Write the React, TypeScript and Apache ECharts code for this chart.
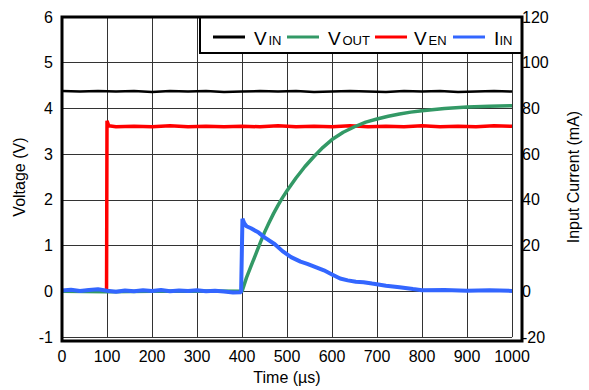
import React, { useEffect, useRef } from "react";
import * as echarts from "echarts";

// ---- Data ----
// Time axis ticks (µs)
const timeTicks = [0, 100, 200, 300, 400, 500, 600, 700, 800, 900, 1000];

// VIN (V) : [time µs, volts]
const vinData: [number, number][] = [
  [0, 4.38], [40, 4.37], [80, 4.38], [120, 4.37], [160, 4.38], [200, 4.36],
  [240, 4.38], [280, 4.37], [320, 4.38], [360, 4.36], [400, 4.37], [440, 4.38],
  [480, 4.37], [520, 4.38], [560, 4.36], [600, 4.37], [640, 4.38], [680, 4.37],
  [720, 4.36], [760, 4.38], [800, 4.37], [840, 4.38], [880, 4.36], [920, 4.37],
  [960, 4.38], [1000, 4.37],
];

// VEN (V)
const venData: [number, number][] = [
  [0, 0.01], [30, 0.0], [60, 0.02], [90, 0.0], [99, 0.01], [100, 3.73],
  [104, 3.62], [120, 3.6], [160, 3.61], [200, 3.6], [240, 3.62], [280, 3.6],
  [320, 3.61], [360, 3.6], [400, 3.61], [440, 3.6], [480, 3.62], [520, 3.6],
  [560, 3.61], [600, 3.6], [640, 3.62], [680, 3.6], [720, 3.61], [760, 3.6],
  [800, 3.62], [840, 3.6], [880, 3.61], [920, 3.6], [960, 3.62], [1000, 3.61],
];

// VOUT (V)
const voutData: [number, number][] = [
  [0, 0.0], [100, -0.01], [200, 0.0], [300, 0.01], [400, 0.0], [410, 0.3],
  [420, 0.55], [430, 0.8], [440, 1.05], [450, 1.29], [460, 1.5], [470, 1.7],
  [480, 1.88], [490, 2.05], [500, 2.2], [520, 2.48], [540, 2.73], [560, 2.95],
  [580, 3.15], [600, 3.32], [625, 3.48], [650, 3.6], [675, 3.7], [700, 3.77],
  [725, 3.83], [750, 3.88], [775, 3.92], [800, 3.95], [850, 4.0], [900, 4.03],
  [950, 4.05], [1000, 4.06],
];

// IIN (mA)
const iinData: [number, number][] = [
  [0, 0.4], [20, 0.7], [40, 0.2], [60, 0.6], [80, 0.9], [100, 0.3],
  [120, -0.2], [140, 0.4], [160, 0.1], [180, 0.5], [200, 0.2], [220, 0.6],
  [240, 0.1], [260, 0.4], [280, 0.2], [300, 0.5], [320, 0.1], [340, 0.3],
  [360, -0.1], [380, -0.5], [398, -0.4], [401, 31.8], [405, 29.8], [410, 28.5],
  [420, 27.6], [437, 25.7], [450, 23.6], [473, 20.6], [490, 17.6], [509, 15.0],
  [530, 13.0], [545, 12.0], [565, 10.5], [582, 9.2], [600, 7.4], [618, 5.6],
  [635, 4.8], [653, 4.2], [670, 4.0], [689, 3.4], [720, 2.5], [750, 1.8],
  [780, 1.0], [800, 0.5], [850, 0.6], [900, 0.3], [950, 0.5], [1000, 0.2],
];

const voltTicks = [-1, 0, 1, 2, 3, 4, 5, 6];
const currentTicks = [-20, 0, 20, 40, 60, 80, 100, 120];

const FONT = "'Liberation Sans', Arial, Helvetica, sans-serif";

const legendItems = [
  { main: "V", sub: "IN", color: "#000000", lineX: 213, textX: 254, subX: 268.5 },
  { main: "V", sub: "OUT", color: "#339966", lineX: 287, textX: 328, subX: 342.5 },
  { main: "V", sub: "EN", color: "#ff0000", lineX: 375, textX: 414, subX: 428.5 },
  { main: "I", sub: "IN", color: "#3366ff", lineX: 453, textX: 494, subX: 499.5 },
];

export default function App() {
  const ref = useRef<HTMLDivElement>(null);

  useEffect(() => {
    if (!ref.current) return;
    const chart = echarts.init(ref.current, undefined, { renderer: "svg" });

    const gridL = 62, gridT = 17, gridR = 522, gridB = 341;

    const legendGraphics: any[] = [
      {
        type: "rect",
        z: 100,
        shape: { x: 200, y: gridT, width: gridR - 200, height: 53 - gridT },
        style: { fill: "#ffffff", stroke: "#000000", lineWidth: 2 },
      },
    ];
    legendItems.forEach((it) => {
      legendGraphics.push({
        type: "line",
        z: 101,
        shape: { x1: it.lineX, y1: 37, x2: it.lineX + 32, y2: 37 },
        style: { stroke: it.color, lineWidth: 3 },
      });
      legendGraphics.push({
        type: "text",
        z: 101,
        style: {
          text: it.main,
          x: it.textX,
          y: 38,
          fill: "#000",
          font: `19px ${FONT}`,
          align: "left",
          verticalAlign: "middle",
          textAlign: "left",
          textVerticalAlign: "middle",
        },
      });
      legendGraphics.push({
        type: "text",
        z: 101,
        style: {
          text: it.sub,
          x: it.subX,
          y: 40.5,
          fill: "#000",
          font: `13px ${FONT}`,
          align: "left",
          verticalAlign: "middle",
          textAlign: "left",
          textVerticalAlign: "middle",
        },
      });
    });

    const option: any = {
      animation: false,
      backgroundColor: "#ffffff",
      grid: {
        left: gridL,
        top: gridT,
        right: 589 - gridR,
        bottom: 390 - gridB,
        containLabel: false,
      },
      xAxis: {
        type: "value",
        min: timeTicks[0],
        max: timeTicks[timeTicks.length - 1],
        interval: 100,
        name: "Time (µs)",
        nameLocation: "middle",
        nameGap: 29,
        nameTextStyle: { fontSize: 16, color: "#000", fontFamily: FONT },
        axisLine: { show: false },
        axisTick: { show: false },
        axisLabel: {
          fontSize: 16,
          color: "#000",
          fontFamily: FONT,
          margin: 11,
          formatter: (v: number) => String(v),
        },
        splitLine: { show: true, lineStyle: { color: "#333", width: 1 } },
      },
      yAxis: [
        {
          type: "value",
          min: voltTicks[0],
          max: voltTicks[voltTicks.length - 1],
          interval: 1,
          name: "Voltage (V)",
          nameLocation: "middle",
          nameGap: 35,
          nameRotate: 90,
          nameTextStyle: { fontSize: 16, color: "#000", fontFamily: FONT },
          axisLine: { show: false },
          axisTick: { show: false },
          axisLabel: { fontSize: 16, color: "#000", fontFamily: FONT, margin: 9 },
          splitLine: { show: true, lineStyle: { color: "#333", width: 1 } },
        },
        {
          type: "value",
          position: "right",
          min: currentTicks[0],
          max: currentTicks[currentTicks.length - 1],
          interval: 20,
          name: "Input Current (mA)",
          nameLocation: "middle",
          nameGap: 53,
          nameRotate: 90,
          nameTextStyle: { fontSize: 16, color: "#000", fontFamily: FONT },
          axisLine: { show: false },
          axisTick: { show: false },
          axisLabel: { fontSize: 16, color: "#000", fontFamily: FONT, margin: 10 },
          splitLine: { show: false },
        },
      ],
      series: [
        {
          name: "VIN",
          type: "line",
          data: vinData,
          showSymbol: false,
          lineStyle: { color: "#000000", width: 2.5 },
          z: 2,
        },
        {
          name: "VEN",
          type: "line",
          data: venData,
          showSymbol: false,
          lineStyle: { color: "#ff0000", width: 3.5 },
          z: 3,
        },
        {
          name: "VOUT",
          type: "line",
          data: voutData,
          showSymbol: false,
          lineStyle: { color: "#339966", width: 3.5 },
          z: 4,
        },
        {
          name: "IIN",
          type: "line",
          yAxisIndex: 1,
          data: iinData,
          showSymbol: false,
          lineStyle: { color: "#3366ff", width: 4 },
          z: 5,
        },
      ],
      graphic: [
        ...legendGraphics,
        {
          type: "rect",
          z: 102,
          shape: { x: gridL, y: gridT, width: gridR - gridL, height: gridB - gridT },
          style: { fill: "none", stroke: "#000000", lineWidth: 3 },
        },
      ],
    };

    chart.setOption(option);
    return () => chart.dispose();
  }, []);

  return <div ref={ref} style={{ width: 589, height: 390, position: "absolute", left: 0, top: 0 }} />;
}
